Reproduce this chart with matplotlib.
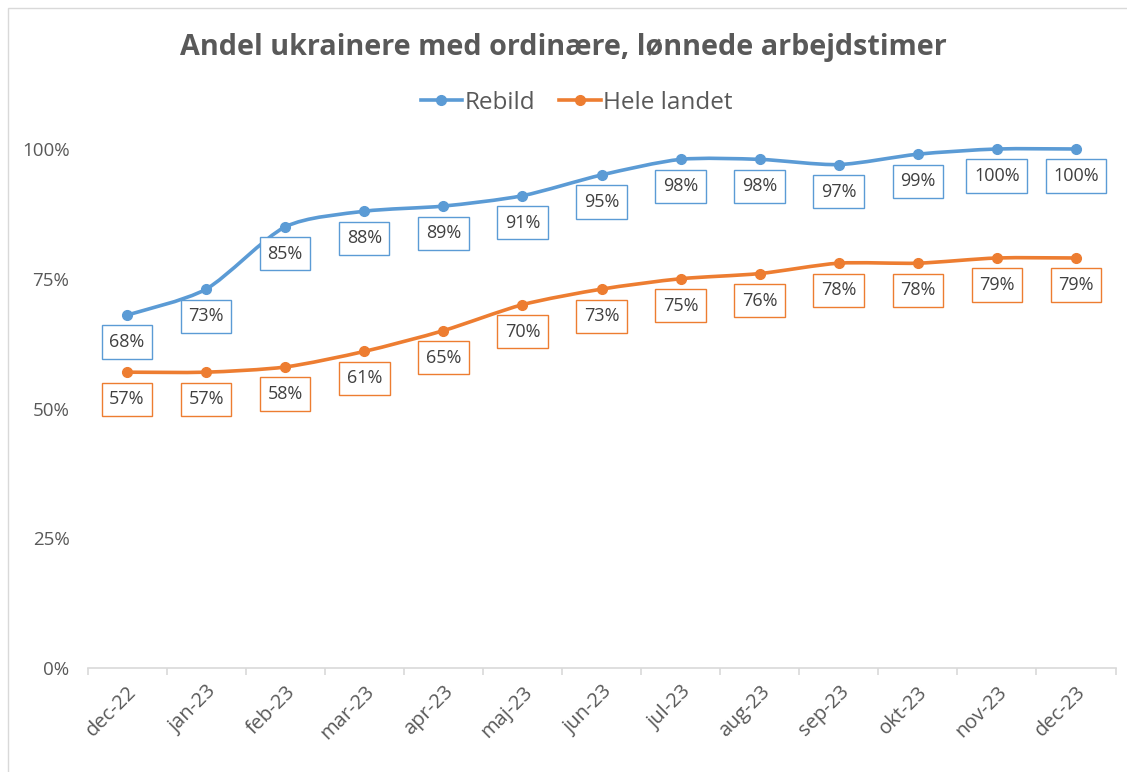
import matplotlib
matplotlib.use("Agg")
import matplotlib.pyplot as plt
from matplotlib.path import Path
from matplotlib.patches import PathPatch, Rectangle
from matplotlib.lines import Line2D
import numpy as np

categories = ["dec-22", "jan-23", "feb-23", "mar-23", "apr-23", "maj-23", "jun-23",
              "jul-23", "aug-23", "sep-23", "okt-23", "nov-23", "dec-23"]
rebild = [0.68, 0.73, 0.85, 0.88, 0.89, 0.91, 0.95, 0.98, 0.98, 0.97, 0.99, 1.00, 1.00]
hele_landet = [0.57, 0.57, 0.58, 0.61, 0.65, 0.70, 0.73, 0.75, 0.76, 0.78, 0.78, 0.79, 0.79]
y_ticks = [0, 0.25, 0.5, 0.75, 1.0]
y_ticklabels = ["0%", "25%", "50%", "75%", "100%"]

BLUE = "#5B9BD5"
ORANGE = "#ED7D31"
TXT = "#595959"
FONT = ["Open Sans", "DejaVu Sans"]
plt.rcParams["font.family"] = FONT

fig = plt.figure(figsize=(11.27, 7.72), dpi=100)
ax = fig.add_axes([87.5 / 1127, 1 - 668 / 772, 1028 / 1127, 1.2 * 519 / 772])
ax.set_xlim(-0.5, len(categories) - 0.5)
ax.set_ylim(0, 1.2)


def smooth_path(xs, ys, t=0.13):
    verts = [(xs[0], ys[0])]
    codes = [Path.MOVETO]
    n = len(xs)
    for i in range(n - 1):
        p0 = (xs[max(i - 1, 0)], ys[max(i - 1, 0)])
        p1 = (xs[i], ys[i])
        p2 = (xs[i + 1], ys[i + 1])
        p3 = (xs[min(i + 2, n - 1)], ys[min(i + 2, n - 1)])
        c1 = (p1[0] + (p2[0] - p0[0]) * t, p1[1] + (p2[1] - p0[1]) * t)
        c2 = (p2[0] - (p3[0] - p1[0]) * t, p2[1] - (p3[1] - p1[1]) * t)
        verts += [c1, c2, p2]
        codes += [Path.CURVE4] * 3
    return Path(verts, codes)


x = np.arange(len(categories))
for vals, col in [(rebild, BLUE), (hele_landet, ORANGE)]:
    ax.add_patch(PathPatch(smooth_path(x, vals), facecolor="none", edgecolor=col,
                           lw=2.6, capstyle="round", joinstyle="round", zorder=3))
    ax.plot(x, vals, ls="none", marker="o", ms=7, color=col, zorder=4)
    for xi, v in zip(x, vals):
        ax.annotate(f"{round(v * 100)}%", (xi, v), xytext=(0, -27), textcoords="offset pixels",
                    ha="center", va="center", fontsize=13, color="#404040", zorder=5,
                    bbox=dict(boxstyle="square,pad=0.42", fc="white", ec=col, lw=1.0))

for s in ["top", "right", "left"]:
    ax.spines[s].set_visible(False)
ax.spines["bottom"].set_color("#D9D9D9")
ax.spines["bottom"].set_linewidth(1.2)

ax.set_yticks(y_ticks)
ax.set_yticklabels(y_ticklabels, color=TXT, fontsize=13.5)
ax.tick_params(axis="y", length=0, pad=13)

ax.set_xticks(x)
ax.set_xticklabels(categories, rotation=45, ha="right", rotation_mode="anchor",
                   color=TXT, fontsize=14.5)
ax.tick_params(axis="x", length=0, pad=10)
ax.set_xticks(np.arange(-0.5, len(categories), 1), minor=True)
ax.tick_params(axis="x", which="minor", length=5, color="#D9D9D9", width=1.2)

fig.text(0.5, 1 - 48 / 772, "Andel ukrainere med ordinære, lønnede arbejdstimer",
         ha="center", va="center", fontsize=20.7, fontweight="bold", color=TXT)

handles = [Line2D([], [], color=BLUE, lw=2.6, marker="o", ms=7),
           Line2D([], [], color=ORANGE, lw=2.6, marker="o", ms=7)]
leg = fig.legend(handles, ["Rebild", "Hele landet"], loc="center",
                 bbox_to_anchor=(0.5 + 13 / 1127, 1 - 103 / 772), ncol=2, frameon=False,
                 fontsize=17.5, handlelength=1.7, handletextpad=0.1, columnspacing=1.0)
for t in leg.get_texts():
    t.set_color(TXT)

fig.add_artist(Rectangle((8 / 1127, -0.01), 1.0, 1 - 8 / 772 + 0.01, transform=fig.transFigure,
                         fill=False, ec="#D9D9D9", lw=1.0))

fig.savefig("out.png", dpi=100, facecolor="white")
